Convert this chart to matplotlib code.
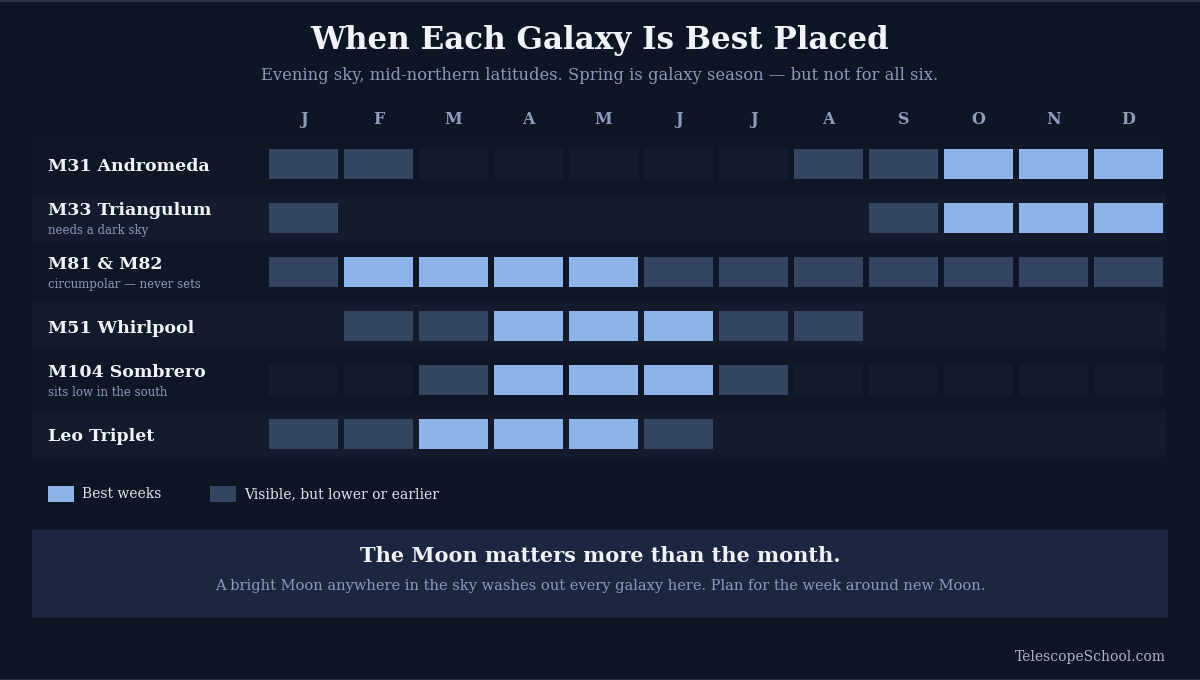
import matplotlib.pyplot as plt
from matplotlib.patches import Rectangle
from matplotlib.transforms import blended_transform_factory

months = ["J", "F", "M", "A", "M", "J", "J", "A", "S", "O", "N", "D"]
galaxies = ["M31 Andromeda", "M33 Triangulum", "M81 & M82", "M51 Whirlpool",
            "M104 Sombrero", "Leo Triplet"]
notes = ["", "needs a dark sky", "circumpolar \u2014 never sets", "", "sits low in the south", ""]
# 0 = not placed, 1 = visible but lower/earlier, 2 = best weeks
m31 = [1, 1, 0, 0, 0, 0, 0, 1, 1, 2, 2, 2]
m33 = [1, 0, 0, 0, 0, 0, 0, 0, 1, 2, 2, 2]
m81 = [1, 2, 2, 2, 2, 1, 1, 1, 1, 1, 1, 1]
m51 = [0, 1, 1, 2, 2, 2, 1, 1, 0, 0, 0, 0]
m104 = [0, 0, 1, 2, 2, 2, 1, 0, 0, 0, 0, 0]
leo = [1, 1, 2, 2, 2, 1, 0, 0, 0, 0, 0, 0]
levels = [m31, m33, m81, m51, m104, leo]

BG = "#0e1525"
BAND_A = "#0f1727"
BAND_B = "#131b2c"
CELL = {0: "#151c2b", 1: "#334561", 2: "#8db4e8"}
WHITE = "#f1f3f9"
MUTED = "#8a9ab8"
SERIF = "DejaVu Serif"

W, H = 1200, 680
fig = plt.figure(figsize=(12, 6.8), dpi=100, facecolor=BG)

# background axes in pixel coordinates for texts and boxes
bg = fig.add_axes([0, 0, 1, 1])
bg.set_xlim(0, W)
bg.set_ylim(H, 0)
bg.axis("off")
bg.set_facecolor(BG)
bg.axhline(0.5, color="#2a3448", lw=1.5)
bg.axhline(H - 0.5, color="#2a3448", lw=1.5)

bg.text(600, 40, "When Each Galaxy Is Best Placed", ha="center", va="center",
        fontsize=22.3, fontweight="bold", color=WHITE, family=SERIF)
bg.text(600, 76, "Evening sky, mid-northern latitudes. Spring is galaxy season \u2014 but not for all six.",
        ha="center", va="center", fontsize=11.8, color=MUTED, family=SERIF)

# grid axes: x in months, y in rows
gx0, gx1, gy0, gy1 = 266, 1166, 137, 461
grid = fig.add_axes([gx0 / W, 1 - gy1 / H, (gx1 - gx0) / W, (gy1 - gy0) / H])
grid.set_xlim(0, len(months))
grid.set_ylim(len(galaxies), 0)
grid.axis("off")

cw, ch = 0.92, 0.556
band_left = (32 - gx0) / 75
for i, row in enumerate(levels):
    band = BAND_B if i % 2 else BAND_A
    grid.add_patch(Rectangle((band_left, i + 0.5 - 0.43), len(months) - band_left, 0.86,
                             facecolor=band, edgecolor="none", clip_on=False, zorder=0))
    for j, v in enumerate(row):
        grid.add_patch(Rectangle((j + 0.5 - cw / 2, i + 0.5 - ch / 2), cw, ch,
                                 facecolor=CELL[v], edgecolor="none", zorder=1))

for j, m in enumerate(months):
    grid.text(j + 0.5, -0.32, m, ha="center", va="center", fontsize=11.5,
              fontweight="bold", color="#8d9dbb", family=SERIF, clip_on=False)

lab = blended_transform_factory(bg.transData, grid.transData)
for i, (name, note) in enumerate(zip(galaxies, notes)):
    if note:
        grid.text(48, i + 0.5 - 0.13, name, transform=lab, ha="left", va="center",
                  fontsize=12.5, fontweight="bold", color=WHITE, family=SERIF)
        grid.text(48, i + 0.5 + 0.24, note, transform=lab, ha="left", va="center",
                  fontsize=8.5, color=MUTED, family=SERIF)
    else:
        grid.text(48, i + 0.5 + 0.04, name, transform=lab, ha="left", va="center",
                  fontsize=12.5, fontweight="bold", color=WHITE, family=SERIF)

# legend
legend_items = [("Best weeks", CELL[2], 48), ("Visible, but lower or earlier", CELL[1], 210)]
for label, col, lx in legend_items:
    bg.add_patch(Rectangle((lx, 486), 26, 16, facecolor=col, edgecolor="none"))
    bg.text(lx + 34, 494, label, ha="left", va="center", fontsize=10,
            color="#dfe4ee", family=SERIF)

# moon note box
bg.add_patch(Rectangle((32, 530), 1136, 88, facecolor="#1b2740", edgecolor="none"))
bg.text(600, 556, "The Moon matters more than the month.", ha="center", va="center",
        fontsize=15, fontweight="bold", color=WHITE, family=SERIF)
bg.text(600, 586, "A bright Moon anywhere in the sky washes out every galaxy here. Plan for the week around new Moon.",
        ha="center", va="center", fontsize=10.5, color=MUTED, family=SERIF)

bg.text(1166, 657, "TelescopeSchool.com", ha="right", va="center", fontsize=10,
        color="#a9b4cc", family=SERIF)

fig.savefig("out.png", dpi=100, facecolor=BG)
